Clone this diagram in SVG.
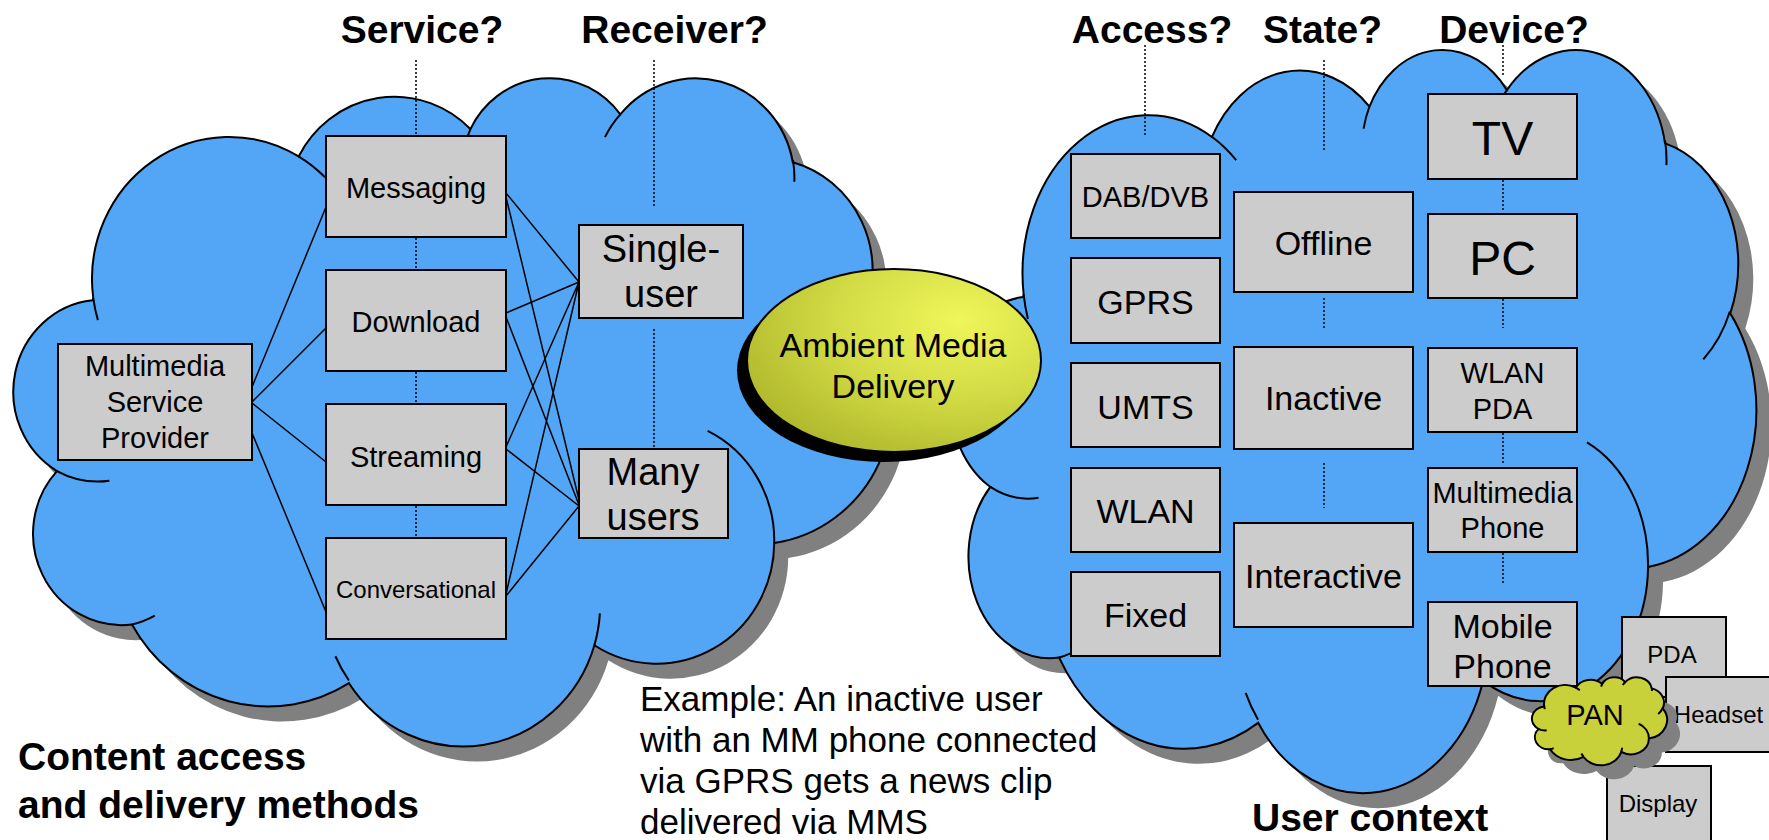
<svg xmlns="http://www.w3.org/2000/svg" xmlns:xlink="http://www.w3.org/1999/xlink" width="1769" height="840" viewBox="0 0 1769 840">
<style>
text{font-family:"Liberation Sans",Arial,Helvetica,sans-serif;fill:#000}
.cl{fill:#53a6f6;stroke:#000;stroke-width:2}
.pan{fill:#c9d13a;stroke:#000;stroke-width:2}
.sh{fill:#808080;stroke:none}
.det{fill:none;stroke:#000;stroke-width:2}
.box{fill:#cccccc;stroke:#000;stroke-width:2}
.con{stroke:#000;stroke-width:1.5;fill:none}
.dot{stroke:#000;stroke-width:1.5;stroke-dasharray:2 2;fill:none}
.m{text-anchor:middle}
.h{font-weight:bold;font-size:39px}
.f24{font-size:24px}.f29{font-size:29px}.f34{font-size:34px}.f35{font-size:35px}.f38{font-size:38px}.f48{font-size:48px}
</style>
<defs>
<path id="cloud" vector-effect="non-scaling-stroke" d="M3900 14370A6753 9190 0 0 1 14005 5202A5333 7267 0 0 1 22456 3432A4365 5945 0 0 1 29833 2481A4857 6595 0 0 1 38318 5575A5333 7273 0 0 1 41818 15459A6775 9220 0 0 1 37405 30203A5785 7867 0 0 1 28557 36813A6752 9215 0 0 1 16482 39266A7720 10543 0 0 1 5805 35472A4360 5918 0 0 1 2113 25551A4345 5945 0 0 1 3863 14508Z"/>
<path id="cdet" vector-effect="non-scaling-stroke" d="M4127 15789A6753 9190 0 0 1 3900 14370M4693 26177A4345 5945 0 0 1 2113 25551M6928 34899A4360 5918 0 0 1 5805 35472M16478 39090A6752 9215 0 0 1 15813 37525M28827 34751A6752 9215 0 0 1 28557 36813M34129 22954A5785 7867 0 0 1 37405 30203M41798 15354A5333 7273 0 0 1 40371 18134M38324 5426A4857 6595 0 0 1 38394 6839M29078 3952A4857 6595 0 0 1 29833 2481M22141 4720A4365 5945 0 0 1 22456 3432M14000 5192A6753 9190 0 0 1 15306 6552"/>
<radialGradient id="yg" cx="0.72" cy="0.28" r="0.85">
<stop offset="0" stop-color="#eef65a"/>
<stop offset="0.5" stop-color="#d2db44"/>
<stop offset="1" stop-color="#adb52b"/>
</radialGradient>
</defs>

<g id="cloud-left">
<use xlink:href="#cloud" class="sh" transform="translate(28,91) scale(0.0203241,0.0154630)"/>
<use xlink:href="#cloud" class="cl" transform="translate(14,76) scale(0.0203241,0.0154630)"/>
<use xlink:href="#cdet" class="det" transform="translate(14,76) scale(0.0203241,0.0154630)"/>
</g>
<g id="cloud-right">
<use xlink:href="#cloud" class="sh" transform="translate(966,62.5) scale(0.0186343,0.0171991)"/>
<use xlink:href="#cloud" class="cl" transform="translate(951,47.5) scale(0.0186343,0.0171991)"/>
<use xlink:href="#cdet" class="det" transform="translate(951,47.5) scale(0.0186343,0.0171991)"/>
</g>

<g id="ambient">
<ellipse cx="884" cy="370.5" rx="147" ry="91.5" fill="#000"/>
<ellipse cx="894" cy="360.5" rx="147" ry="91.5" fill="url(#yg)" stroke="#000" stroke-width="2"/>
<text class="m f34" x="893" y="357">Ambient Media</text>
<text class="m f34" x="893" y="398">Delivery</text>
</g>

<g id="connectors">
<path class="dot" d="M416 60V136M416 238V269M416 372V403M416 506V537M654 60V208M654 329V447M1145 45V135M1324 60V150M1324 298V328M1324 463V508M1503 45V76M1503 180V210M1503 299V328M1503 433V463M1503 553V583"/>
<path class="con" d="M252 387L326 207M252 402L326 328M252 403L326 462M252 433L326 612M506 193L579 282M506 197L579 500M506 313L579 282M506 317L579 505M506 447L579 282M506 449L579 506M506 594L579 282M506 596L579 506"/>
</g>

<g id="msp"><rect class="box" x="58" y="344" width="194" height="116"/>
<text class="m f29" x="155" y="376">Multimedia</text><text class="m f29" x="155" y="412">Service</text><text class="m f29" x="155" y="448">Provider</text></g>
<g id="messaging"><rect class="box" x="326" y="136" width="180" height="101"/><text class="m f29" x="416" y="198">Messaging</text></g>
<g id="download"><rect class="box" x="326" y="270" width="180" height="101"/><text class="m f29" x="416" y="332">Download</text></g>
<g id="streaming"><rect class="box" x="326" y="404" width="180" height="101"/><text class="m f29" x="416" y="467">Streaming</text></g>
<g id="conversational"><rect class="box" x="326" y="538" width="180" height="101"/><text class="m f24" x="416" y="598">Conversational</text></g>
<g id="single-user"><rect class="box" x="579" y="225" width="164" height="93"/>
<text class="m f38" x="661" y="262">Single-</text><text class="m f38" x="661" y="307">user</text></g>
<g id="many-users"><rect class="box" x="579" y="449" width="149" height="89"/>
<text class="m f38" x="653" y="485">Many</text><text class="m f38" x="653" y="530">users</text></g>

<g id="dab"><rect class="box" x="1071" y="154" width="149" height="84"/><text class="m f29" x="1145.5" y="207">DAB/DVB</text></g>
<g id="gprs"><rect class="box" x="1071" y="258" width="149" height="85"/><text class="m f34" x="1145.5" y="314">GPRS</text></g>
<g id="umts"><rect class="box" x="1071" y="363" width="149" height="84"/><text class="m f34" x="1145.5" y="419">UMTS</text></g>
<g id="wlan"><rect class="box" x="1071" y="468" width="149" height="84"/><text class="m f34" x="1145.5" y="523">WLAN</text></g>
<g id="fixed"><rect class="box" x="1071" y="572" width="149" height="84"/><text class="m f34" x="1145.5" y="627">Fixed</text></g>

<g id="offline"><rect class="box" x="1234" y="192" width="179" height="100"/><text class="m f34" x="1323.5" y="255">Offline</text></g>
<g id="inactive"><rect class="box" x="1234" y="347" width="179" height="102"/><text class="m f34" x="1323.5" y="410">Inactive</text></g>
<g id="interactive"><rect class="box" x="1234" y="523" width="179" height="104"/><text class="m f34" x="1323.5" y="588">Interactive</text></g>

<g id="tv"><rect class="box" x="1428" y="94" width="149" height="85"/><text class="m f48" x="1502.5" y="155">TV</text></g>
<g id="pc"><rect class="box" x="1428" y="214" width="149" height="84"/><text class="m f48" x="1502.5" y="275">PC</text></g>
<g id="wlan-pda"><rect class="box" x="1428" y="348" width="149" height="84"/>
<text class="m f29" x="1502.5" y="383">WLAN</text><text class="m f29" x="1502.5" y="419">PDA</text></g>
<g id="mm-phone"><rect class="box" x="1428" y="468" width="149" height="84"/>
<text class="m f29" x="1502.5" y="503">Multimedia</text><text class="m f29" x="1502.5" y="538">Phone</text></g>
<g id="mobile-phone"><rect class="box" x="1428" y="602" width="149" height="84"/>
<text class="m f34" x="1502.5" y="638">Mobile</text><text class="m f34" x="1502.5" y="678">Phone</text></g>

<g id="pda"><rect class="box" x="1622" y="617" width="104" height="80"/><text class="m f24" x="1672" y="663">PDA</text></g>
<g id="headset"><rect class="box" x="1666" y="677" width="108" height="75"/><text class="m f24" x="1718.5" y="723">Headset</text></g>
<g id="display"><rect class="box" x="1607" y="766" width="104" height="90"/><text class="m f24" x="1658" y="812">Display</text></g>
<g id="pan">
<use xlink:href="#cloud" class="sh" transform="translate(1545,691) scale(0.003125,0.0020370)"/>
<use xlink:href="#cloud" class="pan" transform="translate(1532,677) scale(0.003125,0.0020370)"/>
<use xlink:href="#cdet" class="det" transform="translate(1532,677) scale(0.003125,0.0020370)"/>
<text class="m f29" x="1595" y="725">PAN</text>
</g>

<g id="titles">
<text class="m h" x="422" y="43">Service?</text>
<text class="m h" x="674.5" y="43">Receiver?</text>
<text class="m h" x="1152" y="43">Access?</text>
<text class="m h" x="1322.5" y="43">State?</text>
<text class="m h" x="1514" y="43">Device?</text>
<text class="h" x="18" y="770">Content access</text>
<text class="h" x="18" y="818">and delivery methods</text>
<text class="h" x="1252" y="831">User context</text>
</g>
<g id="example">
<text class="f35" x="640" y="711">Example: An inactive user</text>
<text class="f35" x="640" y="752">with an MM phone connected</text>
<text class="f35" x="640" y="793">via GPRS gets a news clip</text>
<text class="f35" x="640" y="834">delivered via MMS</text>
</g>
</svg>
